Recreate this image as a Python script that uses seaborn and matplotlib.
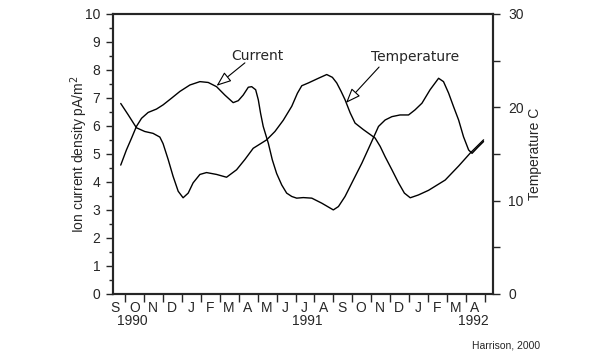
import matplotlib
matplotlib.use("Agg")
import matplotlib.pyplot as plt
import matplotlib.transforms as mtransforms
import seaborn as sns
import pandas as pd
import numpy as np

# month index: 0 = start of Sep 1990
month_labels = ["S", "O", "N", "D", "J", "F", "M", "A", "M", "J",
                "J", "A", "S", "O", "N", "D", "J", "F", "M", "A"]
year_labels = ["1990", "1991", "1992"]
year_pos = [1.35, 10.6, 19.42]

cur_t = [0.75, 1.05, 1.32, 1.58, 1.85, 2.20, 2.64, 2.99, 3.44, 3.88, 4.41,
         4.94, 5.38, 5.82, 6.26, 6.70, 6.97, 7.23, 7.50, 7.68, 7.89, 8.03,
         8.15, 8.29, 8.56, 8.77, 9.00, 9.27, 9.53, 9.80, 10.06, 10.41, 10.86,
         11.39, 12.00, 12.27, 12.62, 13.06, 13.51, 13.95, 14.39, 14.74, 15.10,
         15.53, 15.98, 16.32, 16.69, 17.12, 17.57, 17.83, 18.10, 18.36, 18.63,
         18.89, 19.16, 19.34, 19.65, 19.95]
cur_v = [4.6, 5.14, 5.56, 5.98, 6.27, 6.48, 6.6, 6.75, 6.99, 7.23, 7.46,
         7.58, 7.55, 7.4, 7.1, 6.83, 6.9, 7.1, 7.38, 7.4, 7.29, 6.93,
         6.45, 5.98, 5.38, 4.79, 4.3, 3.89, 3.6, 3.48, 3.42, 3.44, 3.42,
         3.24, 3.0, 3.12, 3.48, 4.07, 4.67, 5.32, 5.98, 6.21, 6.33,
         6.39, 6.39, 6.57, 6.81, 7.29, 7.7, 7.58, 7.17, 6.69, 6.21,
         5.61, 5.14, 5.02, 5.24, 5.44]

temp_t = [0.75, 1.14, 1.58, 2.02, 2.46, 2.82, 2.99, 3.26, 3.52, 3.79, 4.05,
          4.32, 4.58, 4.94, 5.29, 5.82, 6.35, 6.88, 7.32, 7.76, 8.47, 8.91,
          9.35, 9.80, 10.10, 10.33, 10.68, 11.21, 11.65, 11.95, 12.18, 12.41,
          12.62, 12.89, 13.15, 13.59, 14.21, 14.48, 14.74, 15.10, 15.45, 15.76,
          16.07, 16.50, 17.04, 17.92, 18.63, 19.25, 19.95]
temp_v = [20.4, 19.2, 17.8, 17.4, 17.2, 16.8, 16.1, 14.4, 12.6, 11.0, 10.3,
          10.8, 11.9, 12.8, 13.0, 12.8, 12.5, 13.3, 14.4, 15.6, 16.5, 17.4,
          18.6, 20.1, 21.5, 22.3, 22.6, 23.1, 23.5, 23.2, 22.6, 21.7,
          20.8, 19.4, 18.3, 17.6, 16.7, 15.8, 14.7, 13.3, 11.9, 10.8,
          10.3, 10.6, 11.1, 12.2, 13.7, 15.1, 16.5]

df_cur = pd.DataFrame({"t": cur_t, "v": cur_v})
df_temp = pd.DataFrame({"t": temp_t, "v": temp_v})

sns.set_style("ticks")
plt.rcParams["font.family"] = ["Liberation Sans", "DejaVu Sans"]

fig = plt.figure(figsize=(6.0, 3.55), dpi=100)
ax = fig.add_axes([0.188, 0.172, 0.634, 0.789])
ax2 = ax.twinx()

sns.lineplot(data=df_cur, x="t", y="v", ax=ax, color="black", lw=1.0, sort=False)
sns.lineplot(data=df_temp, x="t", y="v", ax=ax2, color="black", lw=1.0, sort=False)

ax.set_xlim(0.33, 20.46)
ax.set_ylim(0, 10)
ax2.set_ylim(0, 30)

# y axes
ax.set_yticks(range(0, 11))
ax.set_yticks(np.arange(0.5, 10, 1.0), minor=True)
ax.tick_params(axis="y", which="major", direction="out", length=5, width=1.0,
               labelsize=10, pad=4)
ax.tick_params(axis="y", which="minor", direction="out", length=3, width=1.0)
ax.set_ylabel("Ion current density pA/m$^2$", fontsize=10, labelpad=-4)

ax2.set_yticks([0, 10, 20, 30])
ax2.set_yticks([5, 15, 25], minor=True)
ax2.tick_params(axis="y", which="major", direction="out", length=5, width=1.0,
                labelsize=10, pad=6)
ax2.tick_params(axis="y", which="minor", direction="out", length=5, width=1.0)
ax2.set_ylabel("Temperature C", fontsize=10, labelpad=2.5)

# x axis: boundary ticks (major, no labels) and month labels (minor, no tick line)
ax.set_xticks(np.arange(1, 21))
ax.set_xticklabels([])
ax.set_xticks(np.arange(len(month_labels)) + 0.47, minor=True)
ax.set_xticklabels(month_labels, minor=True)
ax.tick_params(axis="x", which="major", direction="out", length=6, width=1.0)
ax.tick_params(axis="x", which="minor", length=0, labelsize=10, pad=5)
ax.set_xlabel("")
ax2.set_xlabel("")

trans = mtransforms.blended_transform_factory(ax.transData, ax.transAxes)
for lab, pos in zip(year_labels, year_pos):
    ax.text(pos, -0.072, lab, transform=trans, ha="center", va="top", fontsize=10)

for a in (ax, ax2):
    for s in a.spines.values():
        s.set_linewidth(1.5)
        s.set_visible(True)

ann_props = dict(arrowstyle="-|>,head_length=0.9,head_width=0.35",
                 fc="white", ec="black", lw=0.8, shrinkA=0, shrinkB=0)
ax.text(8.0, 8.5, "Current", ha="center", va="center", fontsize=10,
        family=["DejaVu Sans"])
ax.annotate("", xy=(5.82, 7.43), xytext=(7.32, 8.25), arrowprops=ann_props)

ax.text(16.3, 8.46, "Temperature", ha="center", va="center", fontsize=10,
        family=["DejaVu Sans"])
ax.annotate("", xy=(12.67, 6.82), xytext=(14.42, 8.1), arrowprops=ann_props)

fig.text(0.9, 0.028, "Harrison, 2000", ha="right", va="center", fontsize=7.5)

fig.savefig("out.png", dpi=100)
